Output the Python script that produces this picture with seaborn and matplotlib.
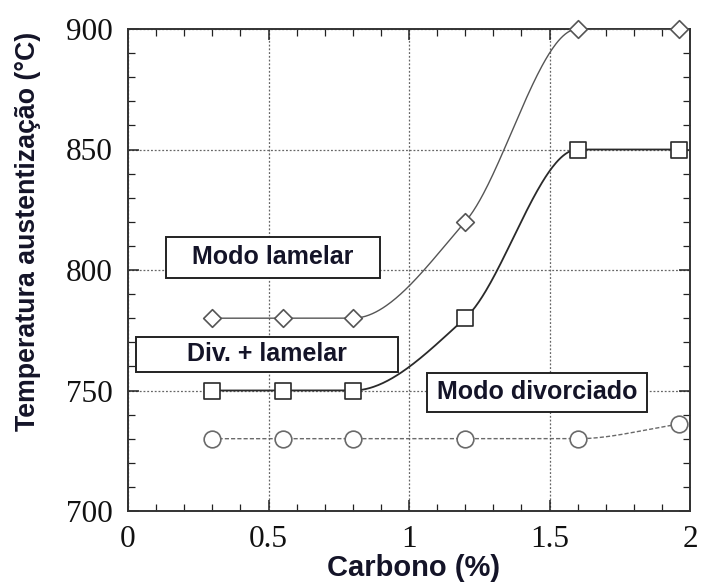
import numpy as np
import pandas as pd
import matplotlib
matplotlib.use("Agg")
import matplotlib.pyplot as plt
from matplotlib.patches import Rectangle
from matplotlib.ticker import MultipleLocator
import seaborn as sns

# Carbon content (%) of the tested steels
carbono = [0.30, 0.55, 0.80, 1.20, 1.60, 1.96]
# Austenitizing temperatures (°C) bounding each transformation mode
temp_lamelar = [780, 780, 780, 820, 900, 900]      # upper limit: lamellar mode
temp_div_lamelar = [750, 750, 750, 780, 850, 850]  # divorced + lamellar limit
temp_divorciado = [730, 730, 730, 730, 730, 736]   # lower limit: divorced mode

x_ticks = [0, 0.5, 1, 1.5, 2]
x_tick_labels = ["0", "0.5", "1", "1.5", "2"]
y_ticks = [700, 750, 800, 850, 900]
y_tick_labels = ["700", "750", "800", "850", "900"]

region_labels = ["Modo lamelar", "Div. + lamelar", "Modo divorciado"]


def pchip(x, y, xs):
    """Shape-preserving piecewise cubic Hermite curve through (x, y)."""
    x = np.asarray(x, float)
    y = np.asarray(y, float)
    h = np.diff(x)
    d = np.diff(y) / h
    n = len(x)
    m = np.zeros(n)
    for k in range(1, n - 1):
        if d[k - 1] * d[k] > 0:
            w1 = 2 * h[k] + h[k - 1]
            w2 = h[k] + 2 * h[k - 1]
            m[k] = (w1 + w2) / (w1 / d[k - 1] + w2 / d[k])
    m[0] = d[0]
    m[-1] = d[-1]
    idx = np.clip(np.searchsorted(x, xs) - 1, 0, n - 2)
    t = (xs - x[idx]) / h[idx]
    h00 = 2 * t**3 - 3 * t**2 + 1
    h10 = t**3 - 2 * t**2 + t
    h01 = -2 * t**3 + 3 * t**2
    h11 = t**3 - t**2
    return (h00 * y[idx] + h10 * h[idx] * m[idx]
            + h01 * y[idx + 1] + h11 * h[idx] * m[idx + 1])


sns.set_style("ticks")
plt.rcParams["font.family"] = ["Liberation Serif", "DejaVu Serif"]

fig = plt.figure(figsize=(7.04, 5.86), dpi=100)
ax = fig.add_axes([128 / 704, 1 - 511 / 586, 562 / 704, 482 / 586])

series = [
    (temp_lamelar, "D", 9.0, "#555555", 1.0, "-"),
    (temp_div_lamelar, "s", 12.0, "#2a2a2a", 1.3, "-"),
    (temp_divorciado, "o", 12.0, "#6a6a6a", 1.0, (0, (3, 1.5))),
]

xs = np.linspace(carbono[0], carbono[-1], 400)
for temps, marker, ms, color, lw, ls in series:
    curve = pd.DataFrame({"x": xs, "y": pchip(carbono, temps, xs)})
    sns.lineplot(data=curve, x="x", y="y", ax=ax, color=color,
                 linewidth=lw, linestyle=ls, zorder=3, sort=False)
    pts = pd.DataFrame({"x": carbono, "y": temps})
    sns.scatterplot(data=pts, x="x", y="y", ax=ax, marker=marker,
                    s=ms**2, color="white", edgecolor=color,
                    linewidth=1.2, zorder=4, clip_on=False)

ax.set_xlim(0, 2)
ax.set_ylim(700, 900)
ax.set_xticks(x_ticks)
ax.set_xticklabels(x_tick_labels)
ax.set_yticks(y_ticks)
ax.set_yticklabels(y_tick_labels)
ax.xaxis.set_minor_locator(MultipleLocator(0.1))
ax.yaxis.set_minor_locator(MultipleLocator(10))
ax.tick_params(which="both", direction="in", top=True, right=True,
               colors="#222222", labelsize=22.5, labelcolor="#111111")
ax.tick_params(which="major", length=8, width=1.1, pad=11)
ax.tick_params(which="minor", length=5, width=0.9)
ax.tick_params(axis="x", which="major", pad=10)
for sp in ax.spines.values():
    sp.set_linewidth(1.4)
    sp.set_color("#333333")
    sp.set_visible(True)

ax.grid(True, which="major", linestyle=(0, (1.5, 1.5)), linewidth=0.9,
        color="#666666", zorder=0)
ax.set_axisbelow(True)

label_font = dict(family=["Liberation Sans", "DejaVu Sans"],
                  fontweight="bold", color="#141428")
ax.set_xlabel("Carbono (%)", fontsize=21, **label_font)
ax.xaxis.set_label_coords(0.508, -0.118)
ax.xaxis.label.set_va("center")
ax.set_ylabel("Temperatura austentização (°C)", fontsize=19.3, **label_font)
ax.yaxis.set_label_coords(-0.178, 0.58)
ax.yaxis.label.set_va("center")

# Region boxes: (x0, x1, y0, y1) in data units
boxes = [
    (0.135, 0.897, 796.7, 813.7),
    (0.028, 0.961, 757.7, 772.2),
    (1.064, 1.847, 741.1, 757.3),
]
for text, (x0, x1, y0, y1) in zip(region_labels, boxes):
    ax.add_patch(Rectangle((x0, y0), x1 - x0, y1 - y0, facecolor="white",
                           edgecolor="#222222", linewidth=1.4, zorder=5))
    ax.text((x0 + x1) / 2, (y0 + y1) / 2, text, ha="center", va="center",
            fontsize=18, zorder=6, **label_font)

fig.savefig("out.png", dpi=100)
